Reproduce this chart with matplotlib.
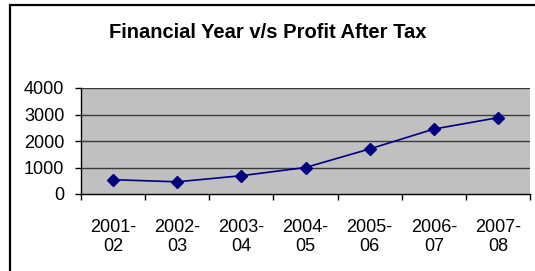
import matplotlib
matplotlib.use("Agg")
import matplotlib.pyplot as plt
from matplotlib.patches import Rectangle
import numpy as np

years = ["2001-\n02", "2002-\n03", "2003-\n04", "2004-\n05", "2005-\n06", "2006-\n07", "2007-\n08"]
profit = [540, 460, 690, 1000, 1700, 2450, 2880]
yticks = [0, 1000, 2000, 3000, 4000]

W, H = 535, 271
fig = plt.figure(figsize=(W / 100, H / 100), dpi=100)
fig.patch.set_facecolor("white")
plt.rcParams["font.family"] = ["Liberation Sans", "DejaVu Sans"]

# outer frame
fig.patches.append(Rectangle((10 / W, -0.2), 1.2, 1 - 5 / H + 0.2, transform=fig.transFigure,
                             fill=False, edgecolor="black", linewidth=1.6, clip_on=False))

ax = fig.add_axes([81 / W, 77 / H, (530 - 81) / W, (194 - 88) / H])
ax.set_facecolor("#c0c0c0")
x = np.arange(len(years))
ax.plot(x, profit, color="#000080", linewidth=1.2, marker="D", markersize=6,
        markerfacecolor="#000080", markeredgecolor="#000080", zorder=3)

ax.set_xlim(-0.5, len(years) - 0.5)
ax.set_ylim(0, 4000)
ax.set_yticks(yticks)
ax.set_yticklabels([str(v) for v in yticks], fontsize=13)
ax.set_xticks(x)
ax.set_xticklabels(years, fontsize=13, linespacing=1.12)
ax.set_xticks(np.arange(-0.5, len(years), 1), minor=True)
ax.tick_params(axis="x", which="major", length=0, pad=18)
ax.tick_params(axis="x", which="minor", length=4, width=1, color="black", direction="out")
ax.tick_params(axis="y", length=4, width=1, direction="out", pad=8)

for v in yticks[1:]:
    ax.axhline(v, color="#3a3a3a", linewidth=1.0, zorder=1)

for s in ["top", "right"]:
    ax.spines[s].set_visible(False)
for s in ["left", "bottom"]:
    ax.spines[s].set_color("black")
    ax.spines[s].set_linewidth(1.0)

fig.text(268 / W, 1 - 32 / H, "Financial Year v/s Profit After Tax", ha="center", va="center",
         fontsize=14.5, fontweight="bold")

fig.savefig("out.png", dpi=100, facecolor="white")
